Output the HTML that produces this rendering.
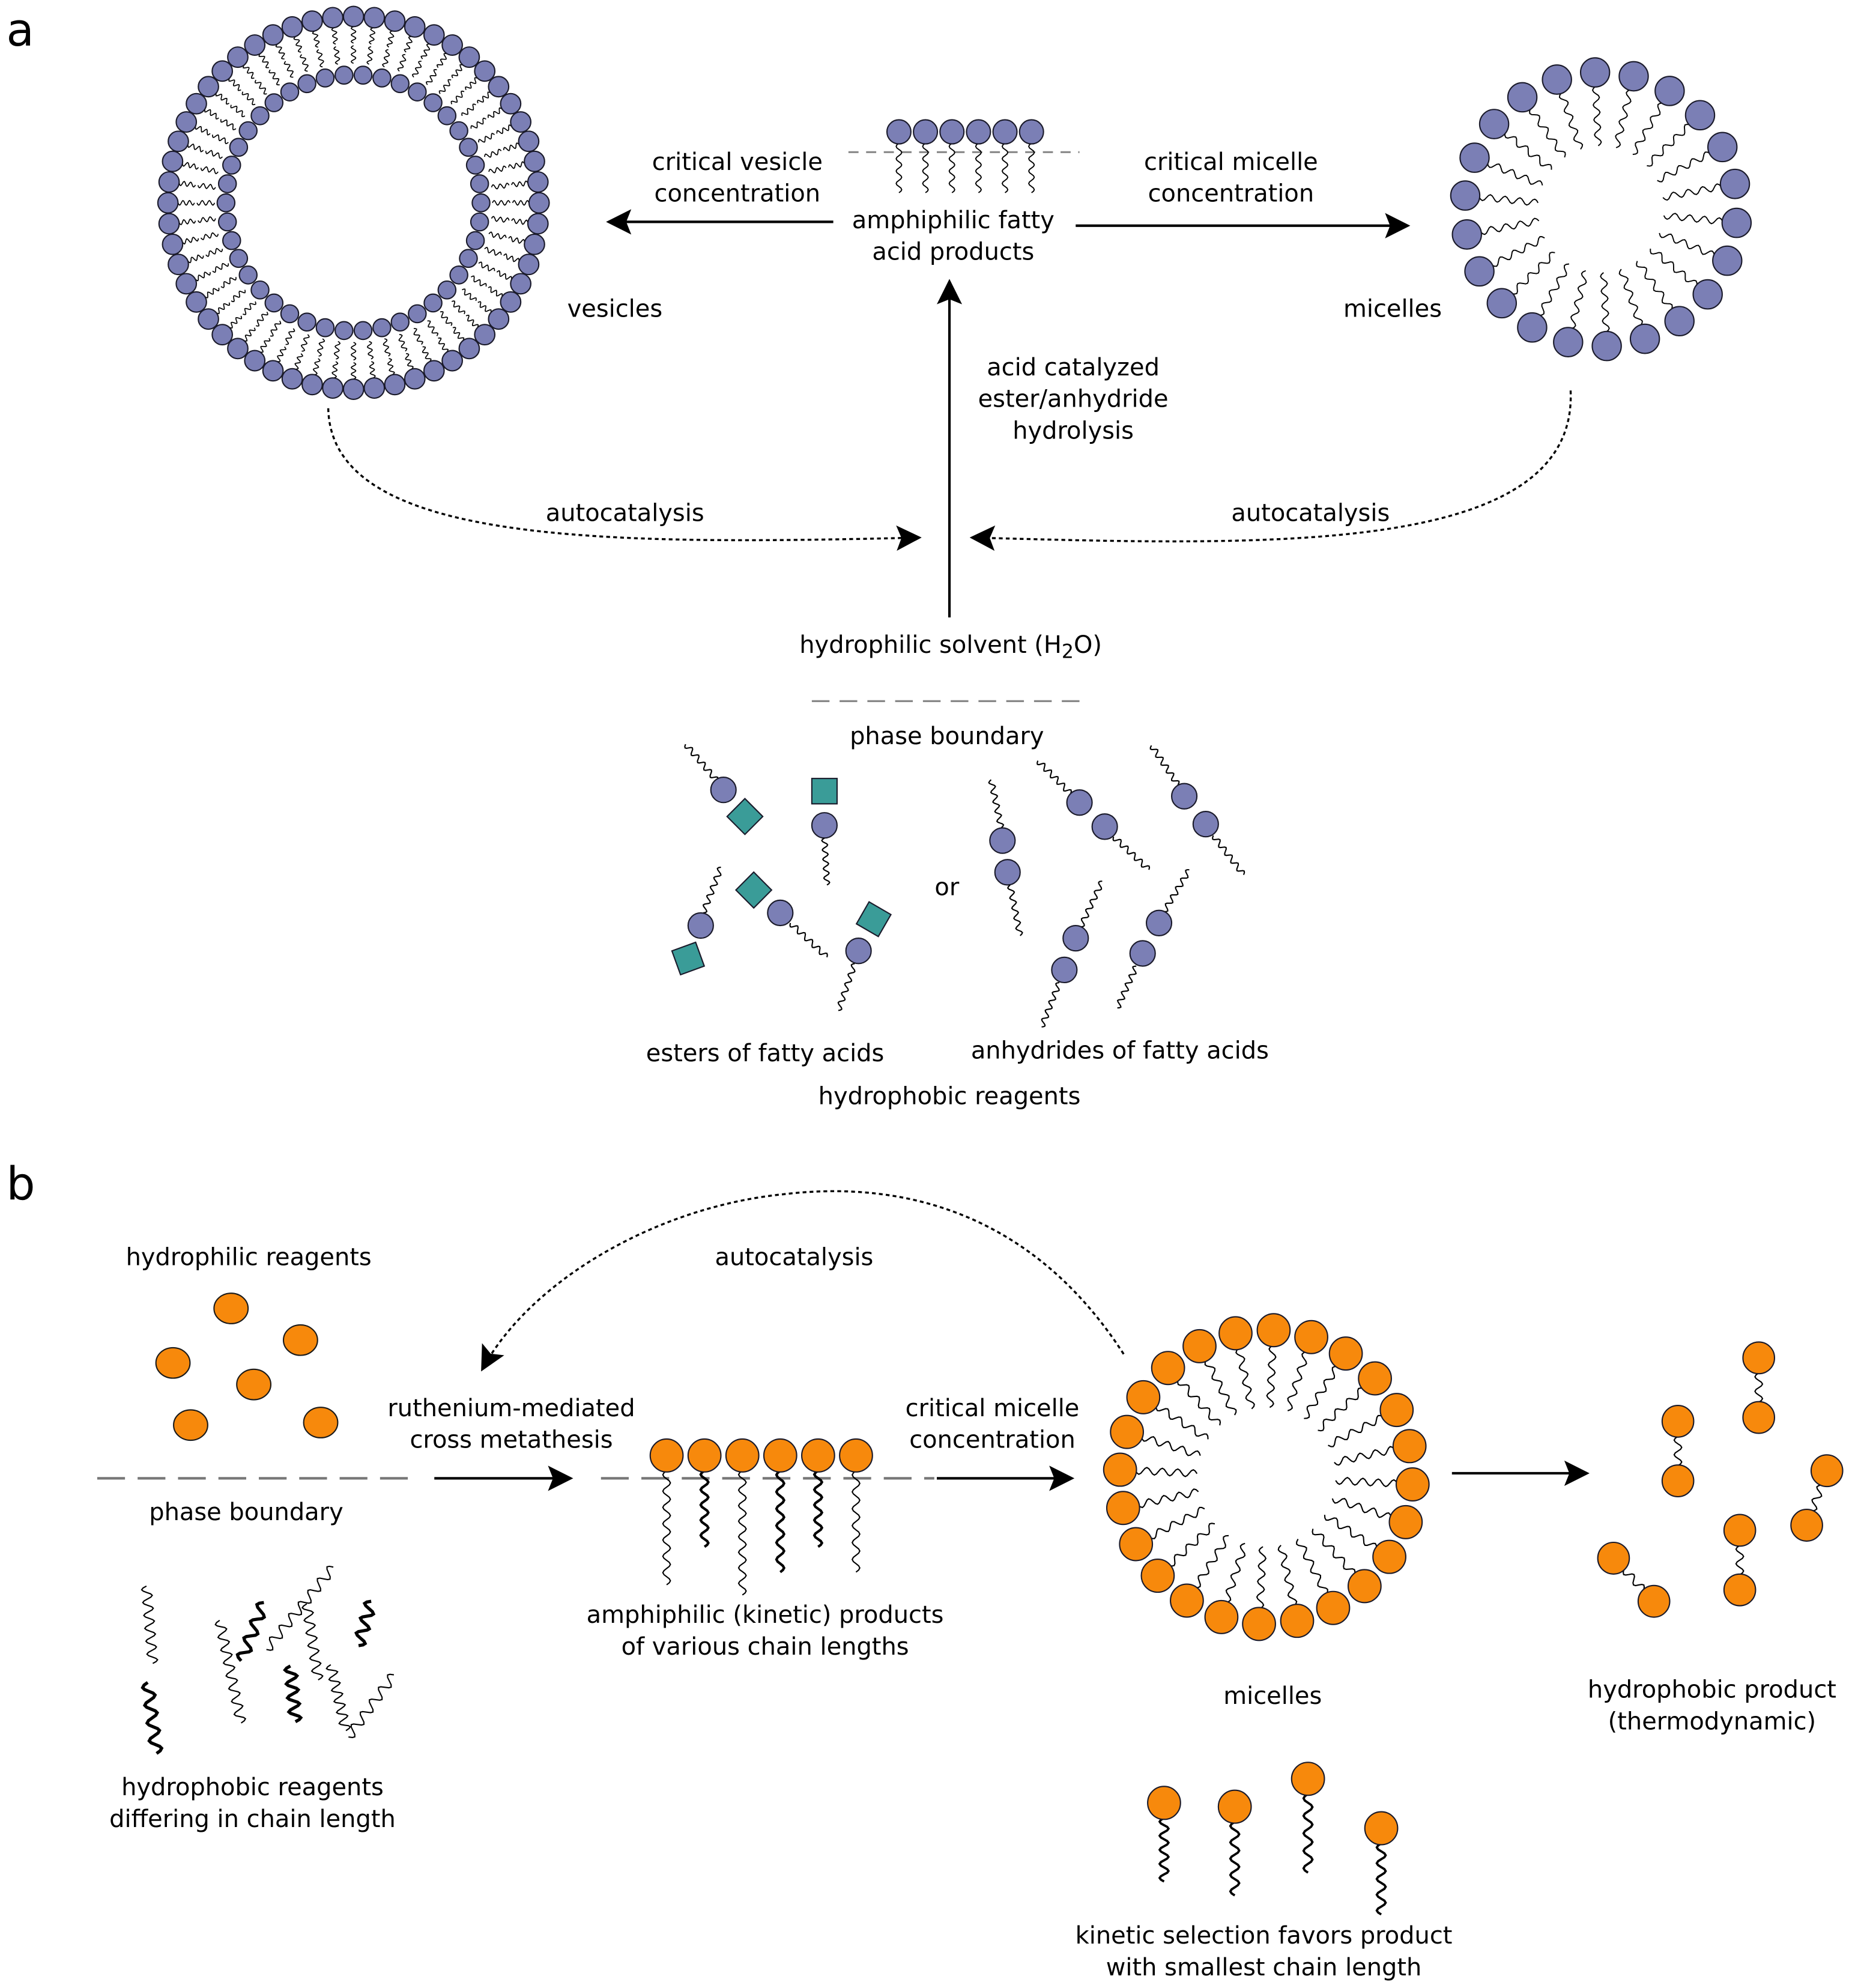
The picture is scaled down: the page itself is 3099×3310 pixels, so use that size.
<!DOCTYPE html>
<html><head><meta charset="utf-8">
<style>
html,body{margin:0;padding:0;background:#fff;}
svg{display:block;}
text{font-family:"DejaVu Sans","Liberation Sans",sans-serif;font-size:19px;fill:#000;}
</style></head>
<body>
<svg id="s" xmlns="http://www.w3.org/2000/svg" width="3099" height="3310" viewBox="0 0 1474 1568" preserveAspectRatio="none">
<defs>
<marker id="ab" viewBox="0 0 10 10" refX="9" refY="5" markerWidth="24" markerHeight="20" markerUnits="userSpaceOnUse" orient="auto"><path d="M0,0 L10,5 L0,10 L2,5 Z" fill="#000"/></marker>
</defs>
<g id="g"></g>
<text x="5" y="36" style="font-size:36px">a</text>
<text x="5" y="946" style="font-size:36px">b</text>
<text x="584" y="134" text-anchor="middle">critical vesicle</text>
<text x="584" y="159" text-anchor="middle">concentration</text>
<text x="755" y="180" text-anchor="middle">amphiphilic fatty</text>
<text x="755" y="205" text-anchor="middle">acid products</text>
<text x="975" y="134" text-anchor="middle">critical micelle</text>
<text x="975" y="159" text-anchor="middle">concentration</text>
<text x="487" y="250" text-anchor="middle">vesicles</text>
<text x="1103" y="250" text-anchor="middle">micelles</text>
<text x="850" y="296" text-anchor="middle">acid catalyzed</text>
<text x="850" y="321" text-anchor="middle">ester/anhydride</text>
<text x="850" y="346" text-anchor="middle">hydrolysis</text>
<text x="495" y="411" text-anchor="middle">autocatalysis</text>
<text x="1038" y="411" text-anchor="middle">autocatalysis</text>
<text x="753" y="515" text-anchor="middle">hydrophilic solvent (H<tspan style="font-size:15px" dy="4">2</tspan><tspan dy="-4">O)</tspan></text>
<text x="750" y="587" text-anchor="middle">phase boundary</text>
<text x="750" y="706" text-anchor="middle">or</text>
<text x="606" y="837" text-anchor="middle">esters of fatty acids</text>
<text x="887" y="835" text-anchor="middle">anhydrides of fatty acids</text>
<text x="752" y="871" text-anchor="middle">hydrophobic reagents</text>
<text x="197" y="998" text-anchor="middle">hydrophilic reagents</text>
<text x="629" y="998" text-anchor="middle">autocatalysis</text>
<text x="405" y="1117" text-anchor="middle">ruthenium-mediated</text>
<text x="405" y="1142" text-anchor="middle">cross metathesis</text>
<text x="786" y="1117" text-anchor="middle">critical micelle</text>
<text x="786" y="1142" text-anchor="middle">concentration</text>
<text x="195" y="1199" text-anchor="middle">phase boundary</text>
<text x="606" y="1280" text-anchor="middle">amphiphilic (kinetic) products</text>
<text x="606" y="1305" text-anchor="middle">of various chain lengths</text>
<text x="1008" y="1344" text-anchor="middle">micelles</text>
<text x="1356" y="1339" text-anchor="middle">hydrophobic product</text>
<text x="1356" y="1364" text-anchor="middle">(thermodynamic)</text>
<text x="200" y="1416" text-anchor="middle">hydrophobic reagents</text>
<text x="200" y="1441" text-anchor="middle">differing in chain length</text>
<text x="1001" y="1533" text-anchor="middle">kinetic selection favors product</text>
<text x="1001" y="1558" text-anchor="middle">with smallest chain length</text>
</svg>
<script>
var g=document.getElementById('g'),out='';
var BL='#7b7fb5',OR='#f7890c',TE='#3a9c98';
function circ(x,y,r,f){out+='<circle cx="'+x+'" cy="'+y+'" r="'+r+'" fill="'+f+'" stroke="#1a1a2a" stroke-width="1"/>';}
function tail(x1,y1,x2,y2,amp,n,w){var dx=x2-x1,dy=y2-y1,L=Math.hypot(dx,dy),ux=dx/L,uy=dy/L,nx=-uy,ny=ux,d='M'+x1.toFixed(1)+','+y1.toFixed(1),N=Math.max(8,n*8);
for(var i=1;i<=N;i++){var t=i/N,s=amp*Math.sin(t*n*2*Math.PI);d+=' L'+(x1+dx*t+nx*s).toFixed(1)+','+(y1+dy*t+ny*s).toFixed(1);}
out+='<path d="'+d+'" fill="none" stroke="#000" stroke-width="'+(w||1)+'"/>';}
function line(x1,y1,x2,y2,st){out+='<line x1="'+x1+'" y1="'+y1+'" x2="'+x2+'" y2="'+y2+'" '+st+'/>';}
function sq(x,y,a){out+='<rect x="'+(x-10)+'" y="'+(y-10)+'" width="20" height="20" fill="'+TE+'" stroke="#1a1a2a" transform="rotate('+a+' '+x+' '+y+')"/>';}
var cx=280,cy=160,n=56;
for(var i=0;i<n;i++){var a=i/n*2*Math.PI;var c=Math.cos(a),s=Math.sin(a);
tail(cx+c*139,cy+s*139,cx+c*126,cy+s*126,1.8,2.5,0.8);
tail(cx+c*124,cy+s*124,cx+c*110,cy+s*110,1.8,2.5,0.8);
circ(cx+c*147,cy+s*147,8,BL);}
for(var i=0;i<42;i++){var a=i/42*2*Math.PI;circ(cx+Math.cos(a)*101,cy+Math.sin(a)*101,7,BL);}
cx=1268;cy=165;
for(var i=0;i<22;i++){var a=i/22*2*Math.PI+0.1;var c=Math.cos(a),s=Math.sin(a);
tail(cx+c*97,cy+s*97,cx+c*50,cy+s*50,2.6,4,0.9);circ(cx+c*108,cy+s*108,11.5,BL);}
line(672,120,855,120,'stroke="#888" stroke-width="1.5" stroke-dasharray="8,6"');
for(var i=0;i<6;i++){var x=712+i*21;tail(x,113,x,152,2.2,4,0.9);circ(x,104,9.5,BL);}
line(660,175,482,175,'stroke="#000" stroke-width="2" marker-end="url(#ab)"');
line(852,178,1115,178,'stroke="#000" stroke-width="2" marker-end="url(#ab)"');
line(752,487,752,222,'stroke="#000" stroke-width="2" marker-end="url(#ab)"');
out+='<path d="M260,322 C262,430 480,430 728,424" fill="none" stroke="#000" stroke-width="1.6" stroke-dasharray="3,2.5" marker-end="url(#ab)"/>';
out+='<path d="M1244,308 C1250,440 1000,430 770,424" fill="none" stroke="#000" stroke-width="1.6" stroke-dasharray="3,2.5" marker-end="url(#ab)"/>';
line(643,553,855,553,'stroke="#888" stroke-width="1.5" stroke-dasharray="14,8"');
tail(543,587,568,616,2.2,5);circ(573,623,10,BL);sq(590,644,45);
sq(653,624,0);circ(653,651,10,BL);tail(653,661,655,698,2.2,5);
tail(571,684,557,720,2.2,5);circ(555,730,10,BL);sq(545,756,-20);
sq(597,702,45);circ(618,720,10,BL);tail(626,728,655,755,2.2,5);
sq(692,725,30);circ(680,750,10,BL);tail(677,760,664,797,2.2,5);
tail(785,615,793,653,2.2,5);circ(794,663,10,BL);circ(798,688,10,BL);tail(800,698,808,738,2.2,5);
tail(822,600,848,626,2.2,5);circ(855,633,10,BL);circ(875,652,10,BL);tail(882,660,910,686,2.2,5);
tail(912,588,933,619,2.2,5);circ(938,628,10,BL);circ(955,650,10,BL);tail(961,659,985,690,2.2,5);
tail(873,695,856,731,2.2,5);circ(852,740,10,BL);circ(843,765,10,BL);tail(839,775,825,810,2.2,5);
tail(942,686,922,719,2.2,5);circ(918,728,10,BL);circ(905,752,10,BL);tail(900,762,885,795,2.2,5);
[[183,1032],[238,1057],[137,1075],[201,1092],[151,1124],[254,1122]].forEach(function(p){out+='<ellipse cx="'+p[0]+'" cy="'+p[1]+'" rx="13.5" ry="12" fill="'+OR+'" stroke="#1a1a1a"/>';});
line(77,1166,330,1166,'stroke="#777" stroke-width="2" stroke-dasharray="22,10"');
[[116,1251,121,1312,4,6,1],[174,1278,191,1359,4,8,1],[209,1264,191,1310,4.5,3.5,2.5],[243,1265,252,1325,4,6,1],[211,1301,264,1236,4,7,1],[117,1327,124,1383,4.5,4,2.5],[294,1263,284,1298,4.5,3,2.5],[230,1314,234,1358,4.5,4,2.5],[262,1313,274,1365,4,6,1],[276,1370,312,1321,4,5,1]].forEach(function(t){tail(t[0],t[1],t[2],t[3],t[4],t[5],t[6]);});
line(344,1166,452,1166,'stroke="#000" stroke-width="2" marker-end="url(#ab)"');
line(742,1166,849,1166,'stroke="#000" stroke-width="2" marker-end="url(#ab)"');
line(1150,1162,1257,1162,'stroke="#000" stroke-width="2" marker-end="url(#ab)"');
line(476,1166,740,1166,'stroke="#777" stroke-width="2" stroke-dasharray="22,10"');
var lens=[90,60,98,80,60,80],ws=[1,2,1,2,2,1];
for(var i=0;i<6;i++){var x=528+i*30;tail(x,1160,x,1160+lens[i],3,Math.round(lens[i]/13),ws[i]);circ(x,1148,13,OR);}
out+='<path d="M890,1068 C820,960 720,930 620,942 C520,952 420,1010 382,1080" fill="none" stroke="#000" stroke-width="1.6" stroke-dasharray="3,2.5" marker-end="url(#ab)"/>';
cx=1003;cy=1165;
for(var i=0;i<24;i++){var a=i/24*2*Math.PI+0.05;var c=Math.cos(a),s=Math.sin(a);
tail(cx+c*104,cy+s*104,cx+c*55,cy+s*55,2.8,4,1);circ(cx+c*116,cy+s*116,13,OR);}
[[1393,1071,1393,1118],[1329,1121,1329,1168],[1447,1160,1431,1203],[1378,1207,1378,1254],[1278,1229,1310,1263]].forEach(function(p){var dx=p[2]-p[0],dy=p[3]-p[1],L=Math.hypot(dx,dy);tail(p[0]+dx/L*12,p[1]+dy/L*12,p[2]-dx/L*12,p[3]-dy/L*12,3,2,1);circ(p[0],p[1],12.5,OR);circ(p[2],p[3],12.5,OR);});
[[922,1422,50],[978,1425,58],[1036,1403,62],[1094,1442,56]].forEach(function(p){tail(p[0],p[1]+12,p[0],p[1]+12+p[2],3.5,4.5,1.8);circ(p[0],p[1],13,OR);});
g.innerHTML=out;
</script>
</body></html>
